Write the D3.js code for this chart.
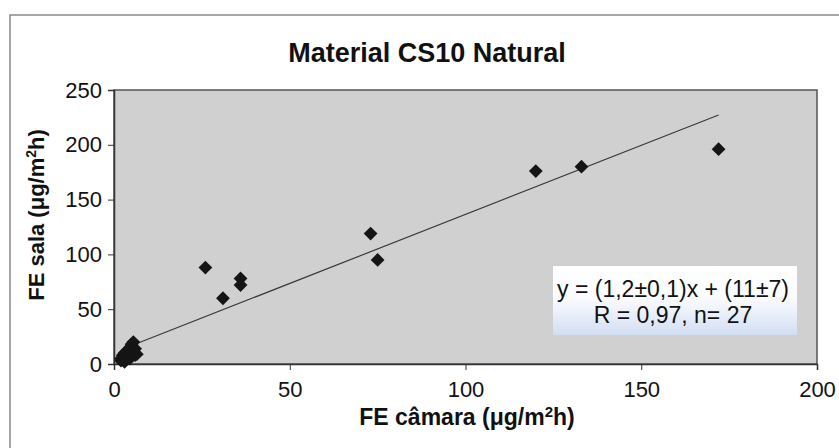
<!DOCTYPE html>
<html>
<head>
<meta charset="utf-8">
<script src="https://cdn.jsdelivr.net/npm/d3@7"></script>
<style>
  body { margin:0; background:#fff; }
  text { font-family: "Liberation Sans", Arial, sans-serif; fill:#111; }
</style>
</head>
<body>
<div id="chart"></div>
<script>
// dados
var camara = [26, 31, 36, 36, 73, 75, 120, 133, 172,
              2, 2.5, 3, 3, 3.5, 4, 4, 4.5, 5, 5, 5.5, 6, 6, 2, 3, 4.5, 5.5, 6.5];
var sala   = [88, 60, 78, 72, 119, 95, 176, 180, 196,
              5, 8, 6, 10, 4, 12, 7, 15, 18, 10, 20, 14, 8, 3, 2, 5, 11, 9];
var xTicks = [0, 50, 100, 150, 200];
var yTicks = [0, 50, 100, 150, 200, 250];
// recta de ajuste
var slope = 1.26, intercept = 10.5;
var eqLines = ["y = (1,2\u00b10,1)x + (11\u00b17)", "R = 0,97, n= 27"];

var W = 839, H = 448;
var margin = {left:114, right:22, top:90, bottom:84};
var w = W - margin.left - margin.right, h = H - margin.top - margin.bottom;

var svg = d3.select("#chart").append("svg").attr("width", W).attr("height", H);

// moldura exterior
svg.append("rect").attr("x", 10).attr("y", 15).attr("width", 860).attr("height", 460)
    .attr("fill", "none").attr("stroke", "#8a8a8a").attr("stroke-width", 1.5);

var x = d3.scaleLinear().domain([0, 200]).range([0, w]);
var y = d3.scaleLinear().domain([0, 250]).range([h, 0]);

var g = svg.append("g").attr("transform", "translate(" + margin.left + "," + margin.top + ")");

g.append("rect").attr("width", w).attr("height", h)
    .attr("fill", "#d0d0d0").attr("stroke", "#555").attr("stroke-width", 1.5);

var xAxis = g.append("g").attr("transform", "translate(0," + h + ")")
    .call(d3.axisBottom(x).tickValues(xTicks).tickSize(6).tickPadding(11));
var yAxis = g.append("g")
    .call(d3.axisLeft(y).tickValues(yTicks).tickSize(6).tickPadding(6));
[xAxis, yAxis].forEach(function (a) {
    a.select(".domain").attr("stroke", "#333").attr("stroke-width", 1.5);
    a.selectAll(".tick line").attr("stroke", "#333");
    a.selectAll(".tick text").attr("font-size", 22).attr("fill", "#111")
        .style("font-family", "Liberation Sans, Arial, sans-serif");
});

// linha de tendência
var x0 = d3.min(camara), x1 = d3.max(camara);
g.append("line")
    .attr("x1", x(x0)).attr("y1", y(slope * x0 + intercept))
    .attr("x2", x(x1)).attr("y2", y(slope * x1 + intercept))
    .attr("stroke", "#3a3a3a").attr("stroke-width", 1.2);

// pontos (losangos)
var pts = camara.map(function (d, i) { return {x: d, y: sala[i]}; });
g.selectAll("path.pt").data(pts).enter().append("path")
    .attr("class", "pt")
    .attr("d", d3.symbol().type(d3.symbolSquare).size(95))
    .attr("transform", function (d) { return "translate(" + x(d.x) + "," + y(d.y) + ") rotate(45)"; })
    .attr("fill", "#151515");

// caixa da equação
var defs = svg.append("defs");
var grad = defs.append("linearGradient").attr("id", "eqGrad")
    .attr("x1", 0).attr("y1", 0).attr("x2", 0).attr("y2", 1);
grad.append("stop").attr("offset", "0%").attr("stop-color", "#ffffff");
grad.append("stop").attr("offset", "45%").attr("stop-color", "#fbfcff");
grad.append("stop").attr("offset", "100%").attr("stop-color", "#d3def3");

svg.append("rect").attr("x", 553).attr("y", 266).attr("width", 244).attr("height", 69)
    .attr("fill", "url(#eqGrad)");
svg.selectAll("text.eq").data(eqLines).enter().append("text")
    .attr("class", "eq")
    .attr("x", 673).attr("y", function (d, i) { return 297 + i * 26; })
    .attr("text-anchor", "middle").attr("font-size", 23)
    .text(function (d) { return d; });

// títulos
svg.append("text").attr("x", 427).attr("y", 62).attr("text-anchor", "middle")
    .attr("font-size", 27).attr("font-weight", "bold").text("Material CS10 Natural");

var xt = svg.append("text").attr("x", 467).attr("y", 425).attr("text-anchor", "middle")
    .attr("font-size", 23).attr("font-weight", "bold");
xt.append("tspan").text("FE c\u00e2mara (\u03bcg/m");
xt.append("tspan").attr("baseline-shift", "super").attr("font-size", 15).text("2");
xt.append("tspan").text("h)");

var yt = svg.append("text").attr("transform", "translate(44,215) rotate(-90)")
    .attr("text-anchor", "middle").attr("font-size", 22).attr("font-weight", "bold");
yt.append("tspan").text("FE sala (\u03bcg/m");
yt.append("tspan").attr("baseline-shift", "super").attr("font-size", 14).text("2");
yt.append("tspan").text("h)");
</script>
</body>
</html>
